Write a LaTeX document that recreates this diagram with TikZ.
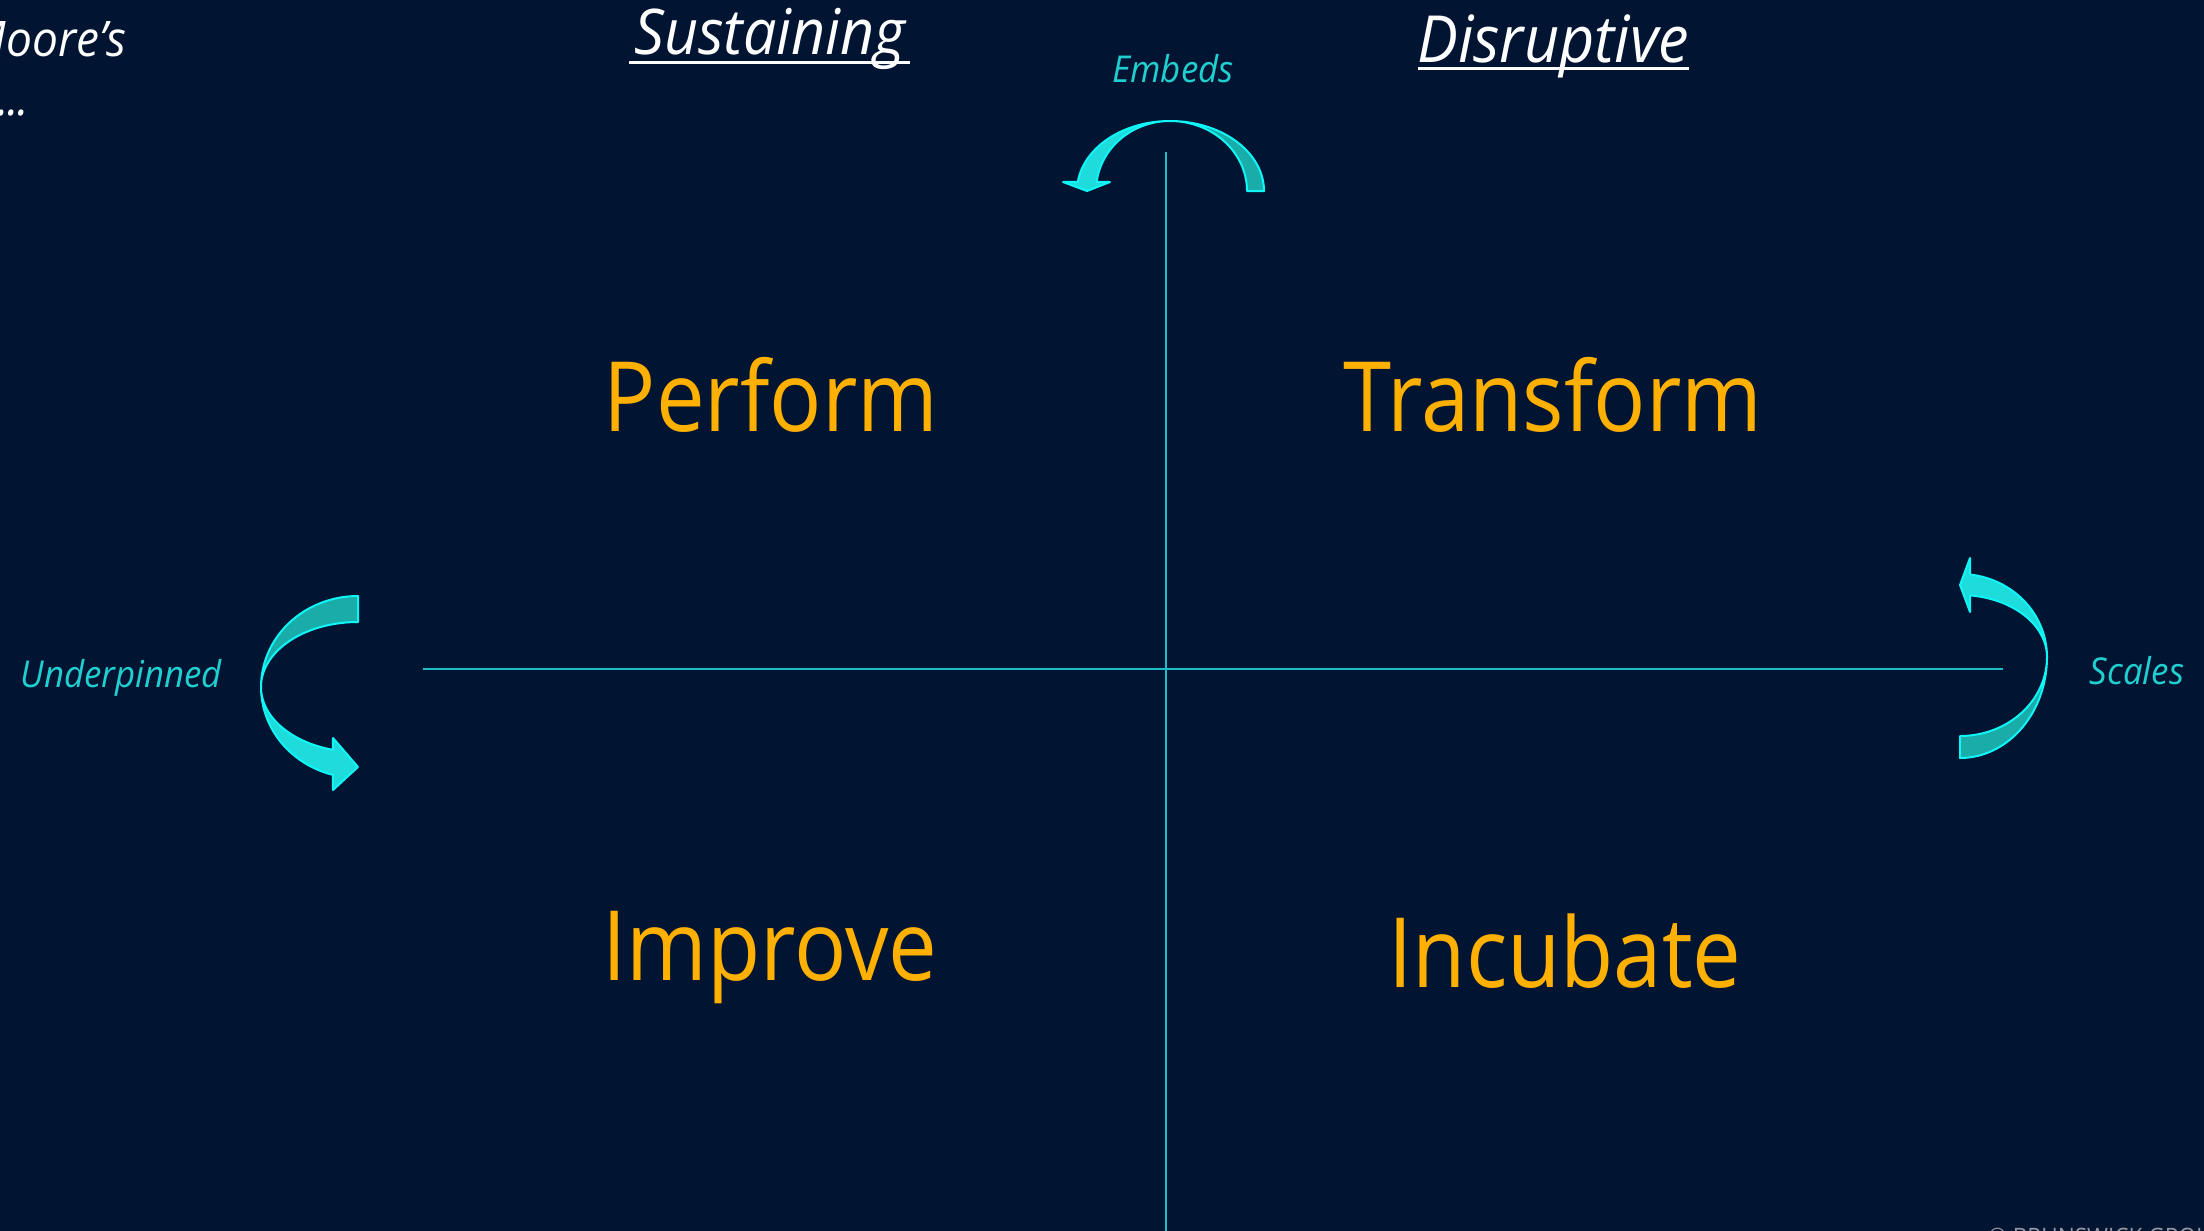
\documentclass[tikz,border=0pt]{standalone}
\usepackage{fontspec}
\setmainfont{Open Sans}[FakeStretch=0.94]
\newfontfamily\quadfont{Open Sans}[FakeStretch=0.895]
\definecolor{bgnavy}{RGB}{1,21,51}
\definecolor{quadorange}{RGB}{255,176,0}
\definecolor{labcyan}{RGB}{32,208,208}
\definecolor{axiscyan}{RGB}{25,190,200}
\definecolor{facelight}{RGB}{30,220,220}
\definecolor{facedark}{RGB}{25,172,168}
\definecolor{edgecyan}{RGB}{16,245,245}
\definecolor{copygrey}{RGB}{150,150,160}
\tikzset{
  quad/.style={font=\quadfont\fontsize{97}{100}\selectfont, text=quadorange, anchor=base, inner sep=0pt},
  colhead/.style={font=\fontsize{62}{70}\selectfont\itshape, text=white, anchor=base, inner sep=0pt},
  flowlab/.style={font=\fontsize{37}{40}\selectfont\itshape, text=labcyan, anchor=base, inner sep=0pt},
  axisline/.style={draw=axiscyan, line width=2pt},
  lightface/.style={fill=facelight, draw=edgecyan, line width=2pt, line join=round},
  darkface/.style={fill=facedark, draw=edgecyan, line width=2pt, line join=round},
  uline/.style={draw=white, line width=3pt}
}
\begin{document}
\begin{tikzpicture}[x=1pt,y=-1pt]
\fill[bgnavy] (0,0) rectangle (2204,1231);
\useasboundingbox (0,0) rectangle (2204,1231);
\clip (0,0) rectangle (2204,1231);

% axes
\coordinate (vtop) at (1166,152);
\coordinate (vbot) at (1166,1231);
\coordinate (hleft) at (423,669);
\coordinate (hright) at (2003,669);
\draw[axisline] (vtop) -- (vbot);
\draw[axisline] (hleft) -- (hright);

% column headings
\node[colhead, font=\fontsize{63}{70}\selectfont\itshape] (sus) at (770,55) {Sustaining};
\draw[uline] (629,63) -- (910,63);
\node[colhead, font=\fontsize{65}{70}\selectfont\itshape] (dis) at (1553,63) {Disruptive};
\draw[uline] (1418,69) -- (1689,69);

% partial text top-left
\node[font=\fontsize{49}{55}\selectfont\itshape, text=white, anchor=base east, inner sep=0pt] (moore) at (127,57) {Moore’s};
\node[font=\fontsize{49}{55}\selectfont\itshape, text=white, anchor=base east, inner sep=0pt] (dots) at (29,115) {.\kern-1.5pt.\kern-1.5pt.};

% quadrant words
\node[quad] (perform) at (771,431) {Perform};
\node[quad] (transform) at (1553,431) {Transform};
\node[quad] (improve) at (770,980) {Improve};
\node[quad] (incubate) at (1565,987) {Incubate};

% flow labels
\node[flowlab] (embeds) at (1173,83) {Embeds};
\node[flowlab] (under) at (121,687) {Underpinned};
\node[flowlab] (scales) at (2137,684) {Scales};

% top curved arrow (Embeds)
\filldraw[darkface] plot[domain=270:360,samples=40] ({1170+94*cos(\x)},{191+70*sin(\x)})
  -- plot[domain=360:270,samples=40] ({1170+77*cos(\x)},{191+70*sin(\x)}) -- cycle;
\filldraw[lightface] plot[domain=270:187.4,samples=40] ({1170+93*cos(\x)},{191+70*sin(\x)})
  -- (1063,182) -- (1087,191) -- (1110,182)
  -- plot[domain=187.4:270,samples=40] ({1170+74*cos(\x)},{191+70*sin(\x)}) -- cycle;

% left curved arrow (Underpinned)
\filldraw[darkface] plot[domain=270:180,samples=40] ({358+97*cos(\x)},{687+91*sin(\x)})
  -- plot[domain=180:270,samples=40] ({358+97*cos(\x)},{687+65*sin(\x)}) -- cycle;
\filldraw[lightface] plot[domain=180:105,samples=40] ({358+97*cos(\x)},{687+91*sin(\x)})
  -- (333,790) -- (358,767) -- (333,738)
  -- plot[domain=105:180,samples=40] ({358+97*cos(\x)},{687+65*sin(\x)}) -- cycle;

% right curved arrow (Scales)
\filldraw[darkface] plot[domain=0:90,samples=40] ({1960+87*cos(\x)},{657+101*sin(\x)})
  -- plot[domain=90:0,samples=40] ({1960+87*cos(\x)},{657+79*sin(\x)}) -- cycle;
\filldraw[lightface] plot[domain=360:276.6,samples=40] ({1960+87*cos(\x)},{657+83*sin(\x)})
  -- (1970,558) -- (1960,585) -- (1970,612)
  -- plot[domain=276.6:360,samples=40] ({1960+87*cos(\x)},{657+62*sin(\x)}) -- cycle;

% copyright (cut off at the bottom edge)
\node[font=\fontsize{24}{28}\selectfont, text=copygrey, anchor=base west, inner sep=0pt] (copy) at (1988,1245) {© BRUNSWICK GROUP};
\end{tikzpicture}
\end{document}
